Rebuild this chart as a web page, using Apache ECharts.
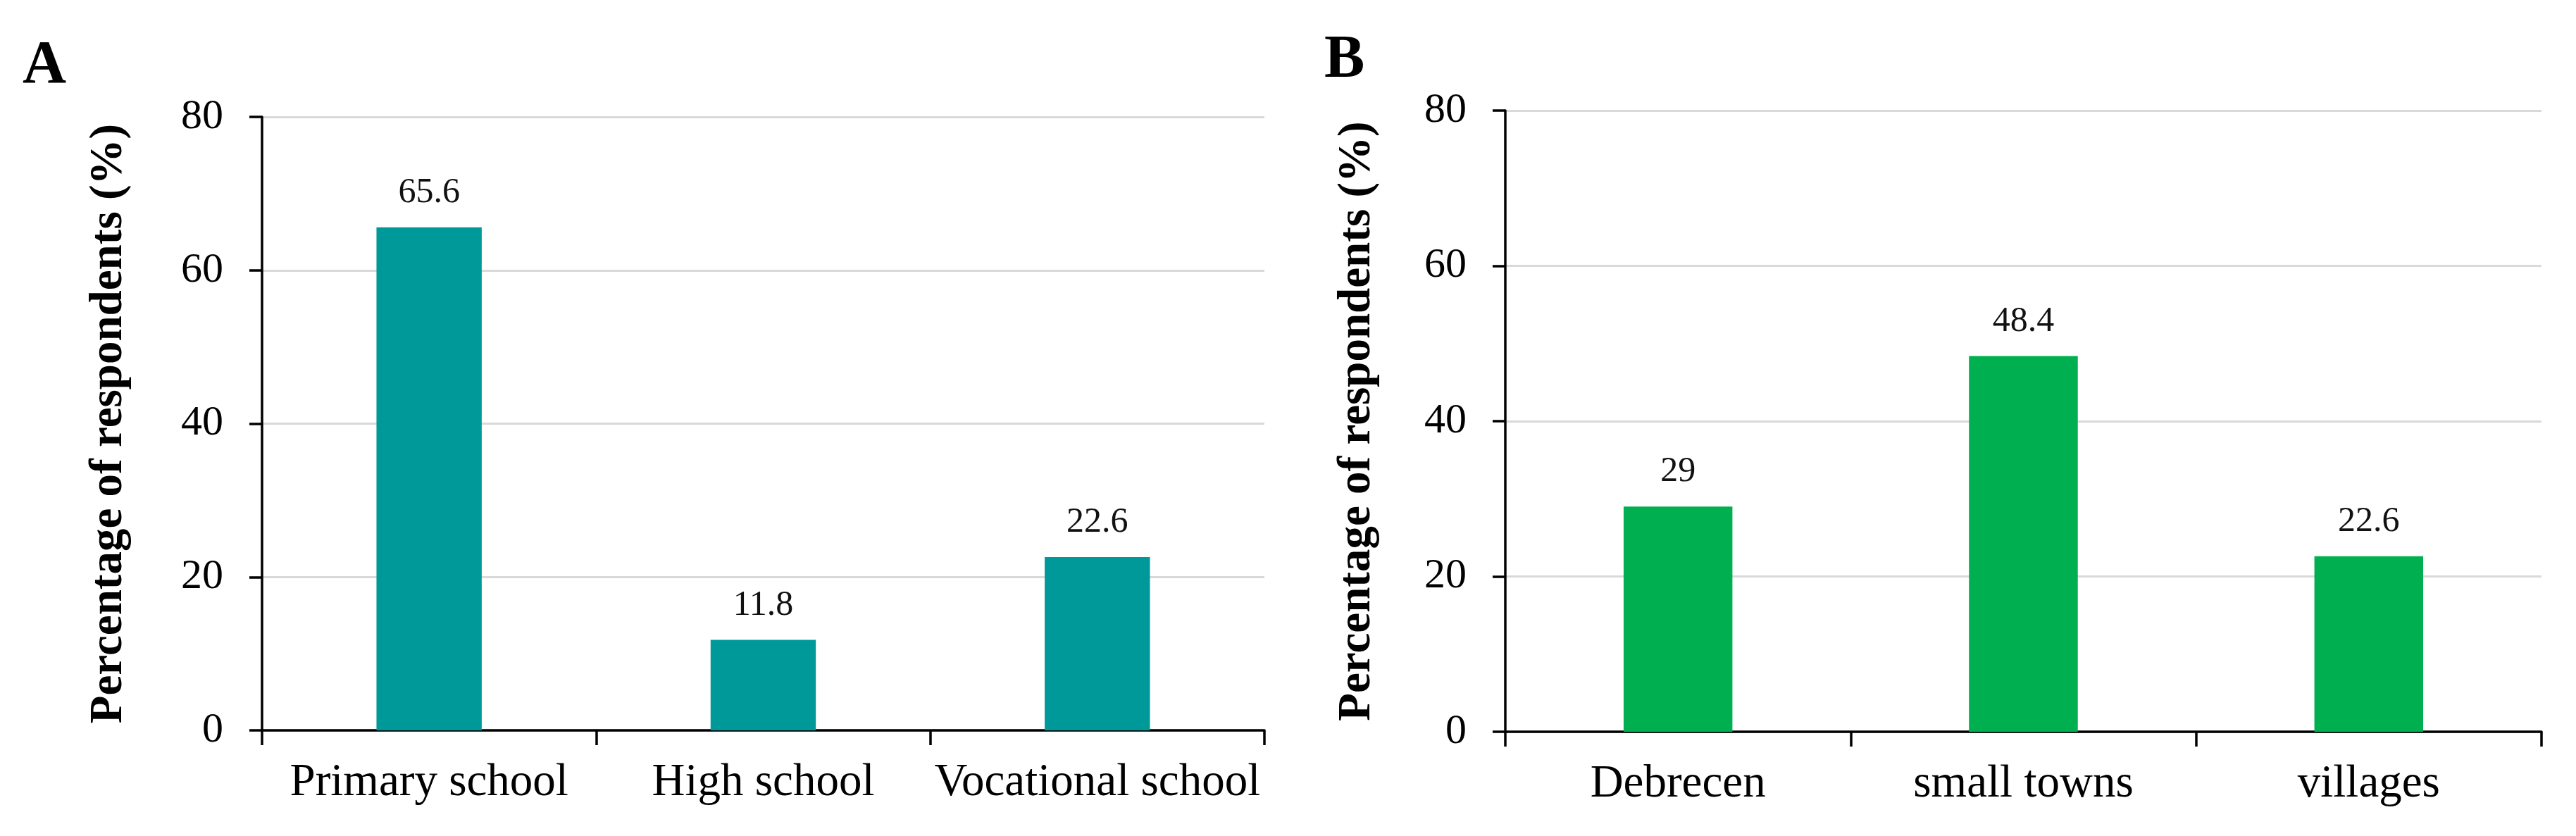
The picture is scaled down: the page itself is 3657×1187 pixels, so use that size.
<!DOCTYPE html>
<html>
<head>
<meta charset="utf-8">
<script src="https://cdn.jsdelivr.net/npm/echarts@6/dist/echarts.min.js"></script>
<style>
html,body{margin:0;padding:0;background:#fff;}
#chart{width:3657px;height:1187px;}
</style>
</head>
<body>
<div id="chart"></div>
<script>
const categoriesA = ['Primary school', 'High school', 'Vocational school'];
const valuesA = [65.6, 11.8, 22.6];
const categoriesB = ['Debrecen', 'small towns', 'villages'];
const valuesB = [29, 48.4, 22.6];
const yMin = 0, yMax = 80, yInterval = 20;
const yAxisTitle = 'Percentage of respondents (%)';
const panelLetters = ['A', 'B'];

const FONT = '"Liberation Serif", "Times New Roman", Times, serif';
const colorA = '#009999';
const colorB = '#00B050';

function makeY(idx, gap) {
  return {
    type: 'value', gridIndex: idx, min: yMin, max: yMax, interval: yInterval,
    name: yAxisTitle, nameLocation: 'middle', nameGap: gap,
    nameTextStyle: {fontFamily: FONT, fontSize: 65, fontWeight: 'bold', color: '#000'},
    axisLine: {show: true, lineStyle: {color: '#000', width: 3.5}},
    axisTick: {show: true, length: 18, lineStyle: {color: '#000', width: 3.5}},
    axisLabel: {fontFamily: FONT, fontSize: 60, color: '#000', margin: 55},
    splitLine: {show: true, lineStyle: {color: '#d9d9d9', width: 3}}
  };
}
function makeX(idx, cats) {
  return {
    type: 'category', gridIndex: idx, data: cats, boundaryGap: true,
    axisLine: {show: true, onZero: true, lineStyle: {color: '#000', width: 3.5}},
    axisTick: {show: true, length: 21, alignWithLabel: false, lineStyle: {color: '#000', width: 3.5}},
    axisLabel: {fontFamily: FONT, fontSize: 65, color: '#000', margin: 42, interval: 0},
    splitLine: {show: false}
  };
}
function makeBar(idx, vals, color) {
  return {
    type: 'bar', xAxisIndex: idx, yAxisIndex: idx, data: vals, barWidth: '31.5%',
    itemStyle: {color: color},
    label: {show: true, position: 'top', distance: 24, fontFamily: FONT, fontSize: 50, color: '#111'},
    silent: true, animation: false
  };
}

const chart = echarts.init(document.getElementById('chart'), null, {renderer: 'canvas'});
chart.setOption({
  backgroundColor: '#fff',
  animation: false,
  grid: [
    {left: 372, top: 166, width: 1423, height: 871},
    {left: 2137, top: 157, width: 1471, height: 882}
  ],
  xAxis: [makeX(0, categoriesA), makeX(1, categoriesB)],
  yAxis: [makeY(0, 184), makeY(1, 177)],
  series: [makeBar(0, valuesA, colorA), makeBar(1, valuesB, colorB)],
  graphic: [
    {type: 'text', left: 32, top: 52, style: {text: panelLetters[0], font: 'bold 86px ' + FONT, fill: '#000'}},
    {type: 'text', left: 1880, top: 44, style: {text: panelLetters[1], font: 'bold 86px ' + FONT, fill: '#000'}}
  ]
});
</script>
</body>
</html>
